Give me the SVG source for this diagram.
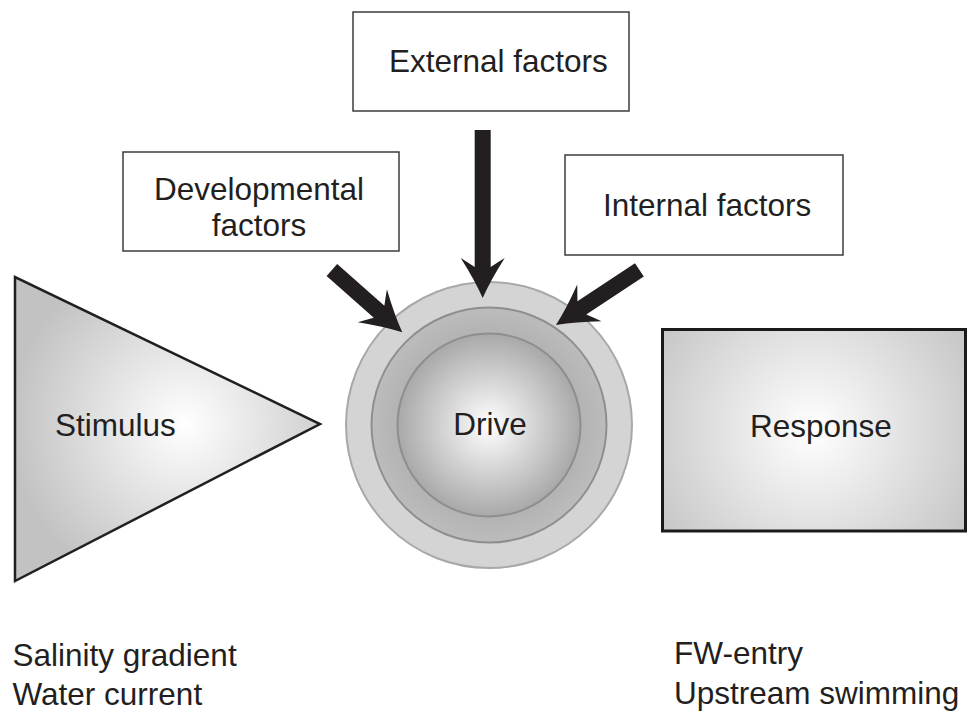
<svg xmlns="http://www.w3.org/2000/svg" width="967" height="716" viewBox="0 0 967 716">
<defs>
<radialGradient id="gTri" gradientUnits="userSpaceOnUse" cx="185" cy="424" r="175">
<stop offset="0" stop-color="#ffffff"/><stop offset="1" stop-color="#c2c2c2"/>
</radialGradient>
<radialGradient id="gResp" gradientUnits="userSpaceOnUse" cx="812" cy="430" r="190">
<stop offset="0" stop-color="#ffffff"/><stop offset="1" stop-color="#c3c3c3"/>
</radialGradient>
<radialGradient id="gInner" gradientUnits="userSpaceOnUse" cx="489" cy="425" r="92">
<stop offset="0" stop-color="#ffffff"/><stop offset="1" stop-color="#a8a8a8"/>
</radialGradient>
<radialGradient id="gMid" gradientUnits="userSpaceOnUse" cx="489" cy="425" r="118">
<stop offset="0.7" stop-color="#b0b0b0"/><stop offset="1" stop-color="#bcbcbc"/>
</radialGradient>
</defs>
<style>
text{font-family:"Liberation Sans",Arial,sans-serif;font-size:31.5px;fill:#231f20}
.box{fill:#ffffff;stroke:#3c3c3c;stroke-width:1.5}
.arrow{fill:#231f20;stroke:none}
.ring{stroke:#8e8e8e;stroke-width:2}
</style>
<g id="external">
<rect class="box" x="353" y="12" width="276" height="99"/>
<text x="389" y="72">External factors</text>
</g>
<g id="developmental">
<rect class="box" x="123" y="152" width="276" height="99"/>
<text x="259" y="200" text-anchor="middle">Developmental</text>
<text x="259" y="236" text-anchor="middle">factors</text>
</g>
<g id="internal">
<rect class="box" x="565" y="155" width="278" height="100"/>
<text x="603" y="216">Internal factors</text>
</g>
<g id="stimulus">
<polygon points="15,277 15,581 320,424" fill="url(#gTri)" stroke="#231f20" stroke-width="2.5" stroke-linejoin="miter"/>
<text x="55" y="436">Stimulus</text>
</g>
<g id="drive">
<circle cx="489" cy="425" r="143" fill="#d4d4d4" stroke="#a8a8a8" stroke-width="2"/>
<circle class="ring" cx="489" cy="425" r="117.5" fill="url(#gMid)"/>
<circle class="ring" cx="489" cy="425" r="91.5" fill="url(#gInner)"/>
<text x="490" y="435" text-anchor="middle">Drive</text>
</g>
<g id="response">
<rect x="662.5" y="329.5" width="303" height="201.5" fill="url(#gResp)" stroke="#1a1a1a" stroke-width="3"/>
<text x="750" y="437">Response</text>
</g>
<g id="connectors">
<path class="arrow" transform="translate(482.7,298) rotate(90)" d="M-168,-8 L-31,-8 Q-35,-14 -40,-22 Q-18,-8 0,0 Q-18,8 -40,22 Q-35,14 -31,8 L-168,8 Z"/>
<path class="arrow" transform="translate(402.3,332.3) rotate(41.5)" d="M-94,-8 L-31,-8 Q-35,-14 -40,-22 Q-18,-8 0,0 Q-18,8 -40,22 Q-35,14 -31,8 L-94,8 Z"/>
<path class="arrow" transform="translate(556,325) rotate(146.5)" d="M-100,-8 L-31,-8 Q-35,-14 -40,-22 Q-18,-8 0,0 Q-18,8 -40,22 Q-35,14 -31,8 L-100,8 Z"/>
</g>
<g id="labels">
<text x="12.5" y="666">Salinity gradient</text>
<text x="12.5" y="705">Water current</text>
<text x="674" y="664">FW-entry</text>
<text x="674" y="704">Upstream swimming</text>
</g>
</svg>
